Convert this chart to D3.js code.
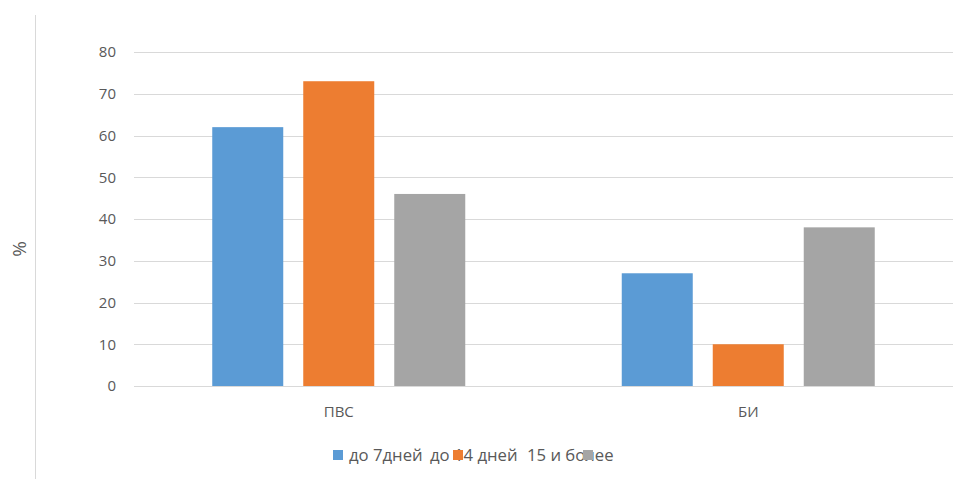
<!DOCTYPE html>
<html><head><meta charset="utf-8">
<script src="https://cdn.jsdelivr.net/npm/d3@7"></script>
<style>body{margin:0;background:#fff;} text{font-family:"Open Sans",sans-serif;}</style>
</head><body>
<svg id="c" width="962" height="479"></svg>
<script>
const categories = ["ПВС", "БИ"];
const seriesNames = ["до 7дней", "до 14 дней", "15 и более"];
const values7 = [62, 27];
const values14 = [73, 10];
const values15 = [46, 38];
const yTicks = [0, 10, 20, 30, 40, 50, 60, 70, 80];
const colors = ["#5B9BD5", "#ED7D31", "#A5A5A5"];

(function(){
const series = [values7, values14, values15];
const svg = d3.select("#c");
const pLeft = 134, pRight = 953, pTop = 52, pBottom = 386;
const y = d3.scaleLinear().domain([0, 80]).range([pBottom, pTop]);
const x = d3.scaleBand().domain(categories).range([pLeft, pRight]);
const barW = 71, gap = 20;
const inner = d3.scaleBand().domain(d3.range(3)).range([0, 3*barW + 2*gap]).paddingInner(gap/(barW+gap));
const txt = "#595959";

// left border line
svg.append("line").attr("x1",35.5).attr("x2",35.5).attr("y1",15).attr("y2",479).attr("stroke","#D9D9D9");
svg.append("text").attr("transform","translate(26,249) rotate(-90)").attr("text-anchor","middle")
  .attr("font-size",19).attr("fill",txt).text("%");

// grid
svg.append("g").selectAll("line").data(yTicks).join("line")
  .attr("x1",pLeft).attr("x2",pRight).attr("y1",d=>Math.round(y(d))+0.5).attr("y2",d=>Math.round(y(d))+0.5)
  .attr("stroke","#D9D9D9").attr("stroke-width",1);

const yAxis = d3.axisLeft(y).tickValues(yTicks).tickSize(0).tickPadding(0);
const ga = svg.append("g").attr("transform",`translate(${pLeft-18},0)`).call(yAxis);
ga.select(".domain").remove();
ga.selectAll("text").attr("font-size",15).attr("fill",txt).attr("font-family","Open Sans, sans-serif");

// bars
const groupW = 3*barW + 2*gap;
categories.forEach((c, ci) => {
  const g0 = x(c) + x.bandwidth()/2 - groupW/2;
  series.forEach((s, si) => {
    svg.append("rect").attr("x", g0 + inner(si)).attr("width", inner.bandwidth())
      .attr("y", y(s[ci])).attr("height", y(0) - y(s[ci])).attr("fill", colors[si]);
  });
});

// category labels
const xAxis = d3.axisBottom(x).tickSize(0).tickPadding(0);
const gx = svg.append("g").attr("transform",`translate(0,${pBottom+20})`).call(xAxis);
gx.select(".domain").remove();
gx.selectAll("text").attr("font-size",15).attr("fill",txt).attr("font-family","Open Sans, sans-serif");

// legend (overlapping like the original)
const legMarkX = [333, 453, 583];
const legTextX = [349, 430, 527];
const legend = svg.append("g");
seriesNames.forEach((n, i) => {
  legend.append("text").attr("x", legTextX[i]).attr("y", 461).attr("font-size",16.7).attr("fill",txt).text(n);
});
seriesNames.forEach((n, i) => {
  legend.append("rect").attr("x", legMarkX[i]).attr("y", 450).attr("width",10).attr("height",10).attr("fill",colors[i]);
});
})();
</script>
</body></html>
